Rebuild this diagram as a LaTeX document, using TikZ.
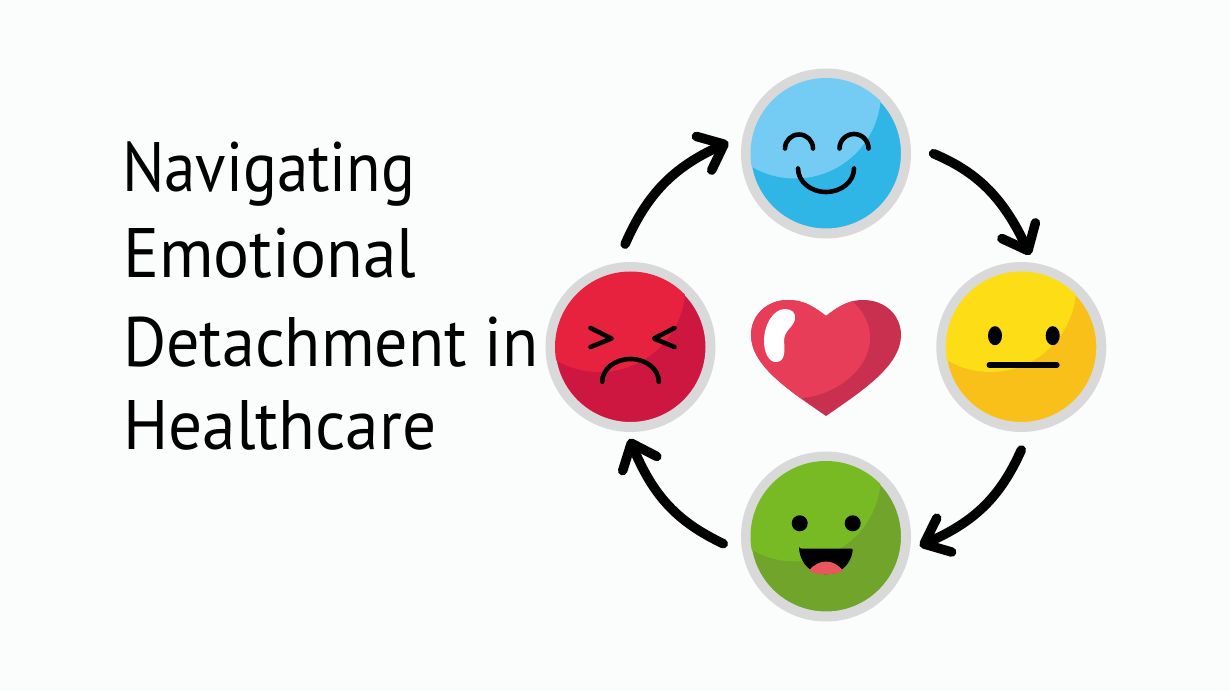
\documentclass[tikz,border=0pt]{standalone}
\usepackage{fontspec}
\setmainfont{PT Sans}
\usetikzlibrary{arrows.meta}
\definecolor{pagebg}{HTML}{FBFCFC}
\definecolor{ringgrey}{HTML}{D9D9D9}
\definecolor{bluedark}{HTML}{2FB6E6}
\definecolor{bluelight}{HTML}{74CCF4}
\definecolor{yellowdark}{HTML}{F8C018}
\definecolor{yellowlight}{HTML}{FCDD16}
\definecolor{greendark}{HTML}{70A42A}
\definecolor{greenlight}{HTML}{78BA24}
\definecolor{reddark}{HTML}{CE1740}
\definecolor{redlight}{HTML}{E6223F}
\definecolor{heartdark}{HTML}{C92F4E}
\definecolor{heartlight}{HTML}{E73D58}
\definecolor{tonguered}{HTML}{EA5560}
\tikzset{
  facenode/.style={circle, minimum size=160pt, inner sep=0pt, outer sep=23pt, draw=ringgrey, line width=10pt},
  titleline/.style={anchor=base west, inner sep=0pt, font=\fontsize{70}{70}\selectfont, text=black},
  feature/.style={draw=black, line width=4.6pt, line cap=round, line join=round},
  cyclearrow/.style={draw=black, line width=9.5pt, line cap=round, bend left=21, -{Straight Barb[round, length=22pt, width=37pt]}}
}
\begin{document}
\begin{tikzpicture}[x=1pt, y=1pt]
\useasboundingbox (0,0) rectangle (1230,691);
\fill[pagebg] (0,0) rectangle (1230,691);

\node[titleline] (navline) at (122,499) {\resizebox{293pt}{\height}{Navigating}};
\node[titleline] (emoline) at (123,413) {\resizebox{293pt}{\height}{Emotional}};
\node[titleline] (detline) at (123,324) {\resizebox{415pt}{\height}{Detachment in}};
\node[titleline] (healine) at (123,241) {\resizebox{313pt}{\height}{Healthcare}};

\node[facenode, fill=bluedark] (blueface) at (826,537.5) {};
\node[facenode, fill=yellowdark] (yellowface) at (1021.3,344) {};
\node[facenode, fill=greendark] (greenface) at (826,154.5) {};
\node[facenode, fill=reddark] (redface) at (630.5,344) {};

\begin{scope}[shift={(blueface.center)}]
\clip (0,0) circle (75.5);
\fill[bluelight] (-31,61) circle (86);
\draw[feature] (-41,5) arc[start angle=180, end angle=0, radius=14];
\draw[feature] (13.5,5) arc[start angle=180, end angle=0, radius=14.5];
\draw[feature] (-28,-15) arc[start angle=180, end angle=360, x radius=28, y radius=23.5];
\end{scope}

\begin{scope}[shift={(yellowface.center)}]
\clip (0,0) circle (75.5);
\fill[yellowlight] (-31,61) circle (86);
\fill (-26.3,11.3) ellipse (7 and 9.5);
\fill (31.4,11.3) ellipse (7 and 9.5);
\draw[feature, line width=5.6pt] (-32,-18) -- (35.5,-18);
\end{scope}

\begin{scope}[shift={(greenface.center)}]
\clip (0,0) circle (75.5);
\fill[greenlight] (-31,61) circle (86);
\fill (-26.3,13.2) circle (8);
\fill (26.7,13.2) circle (8);
\fill[rounded corners=2pt] (-27,-12) -- (27,-12) .. controls (25,-28) and (14,-37.5) .. (0,-37.5) .. controls (-14,-37.5) and (-25,-28) .. (-27,-12) -- cycle;
\fill[tonguered] (-17,-34) .. controls (-12,-28) and (-6,-25) .. (0,-25) .. controls (6,-25) and (12,-28) .. (17,-34) .. controls (10,-39) and (-10,-39) .. (-17,-34) -- cycle;
\end{scope}

\begin{scope}[shift={(redface.center)}]
\clip (0,0) circle (75.5);
\fill[redlight] (-31,61) circle (86);
\draw[feature] (-40,19) -- (-19,8.5) -- (-40,0);
\draw[feature] (44,19) -- (23.5,8.5) -- (44,0);
\draw[feature] (-28.3,-34.7) arc[start angle=180, end angle=0, x radius=28.3, y radius=22.7];
\end{scope}

\begin{scope}
\clip (826,375) .. controls (812,386) and (802,391) .. (788,391) .. controls (766,391) and (751,375) .. (751,356) .. controls (751,325) and (790,300) .. (826,275) .. controls (862,300) and (901,325) .. (901,356) .. controls (901,375) and (886,391) .. (863,391) .. controls (850,391) and (840,386) .. (826,375) -- cycle;
\fill[heartdark] (740,265) rectangle (910,400);
\fill[heartlight] (740,400) -- (846,400) -- (853,389) .. controls (866,378) and (871,362) .. (870,350) .. controls (868,322) and (838,297) .. (803,293) -- (740,265) -- cycle;
\end{scope}
\fill[white] (785,382) .. controls (792,382) and (796,378) .. (795,372) .. controls (794,364) and (784,361) .. (784,350) .. controls (785,340) and (785,330) .. (777,329) .. controls (768,328) and (764,340) .. (764,350) .. controls (764,366) and (773,382) .. (785,382) -- cycle;

\draw[cyclearrow, shorten >=-5.5pt] (redface.93) to (blueface.175);
\draw[cyclearrow, shorten <=5pt, shorten >=-12pt] (blueface.1) to (yellowface.88);
\draw[cyclearrow, shorten >=-10pt] (yellowface.270) to (greenface.357);
\draw[cyclearrow, shorten >=-12pt] (greenface.184) to (redface.272);
\end{tikzpicture}
\end{document}
